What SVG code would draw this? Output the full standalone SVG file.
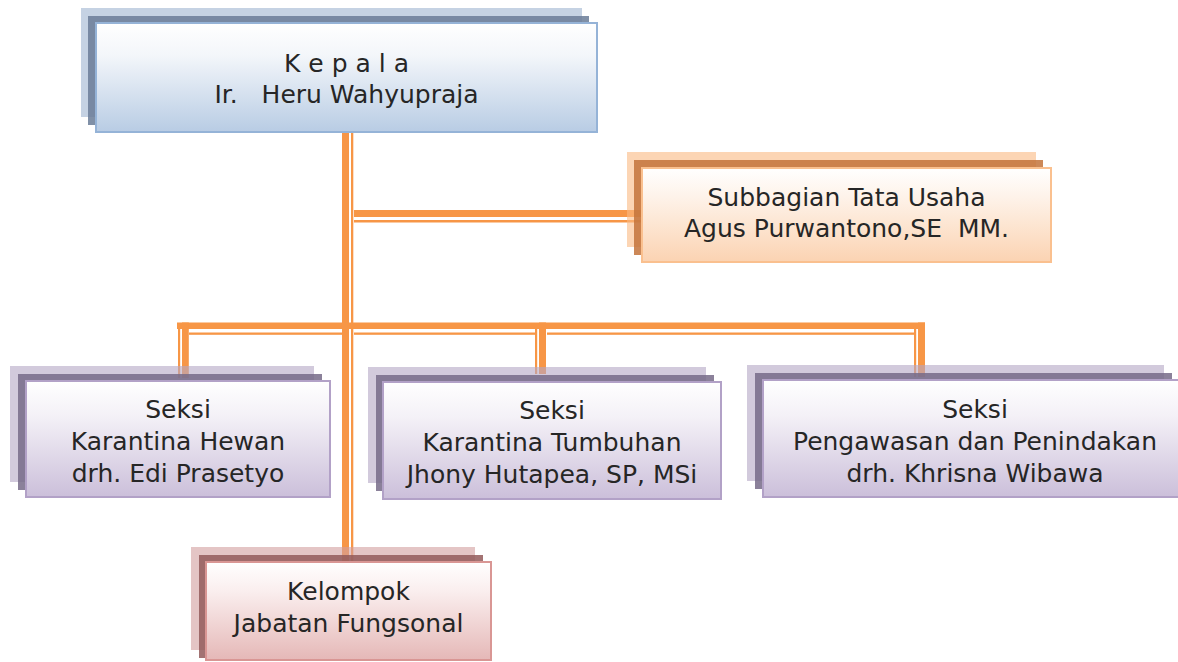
<svg xmlns="http://www.w3.org/2000/svg" width="1178" height="662" viewBox="0 0 1178 662">
  <defs>
    <linearGradient id="gBlue" x1="0" y1="0" x2="0" y2="1">
      <stop offset="0" stop-color="#ffffff"/>
      <stop offset="0.3" stop-color="#f3f6fa"/>
      <stop offset="1" stop-color="#b8cce4"/>
    </linearGradient>
    <linearGradient id="gOrange" x1="0" y1="0" x2="0" y2="1">
      <stop offset="0" stop-color="#ffffff"/>
      <stop offset="0.3" stop-color="#fef3ea"/>
      <stop offset="1" stop-color="#fbd3b2"/>
    </linearGradient>
    <linearGradient id="gPurple" x1="0" y1="0" x2="0" y2="1">
      <stop offset="0" stop-color="#ffffff"/>
      <stop offset="0.3" stop-color="#f4f1f7"/>
      <stop offset="1" stop-color="#cbbfda"/>
    </linearGradient>
    <linearGradient id="gRed" x1="0" y1="0" x2="0" y2="1">
      <stop offset="0" stop-color="#ffffff"/>
      <stop offset="0.3" stop-color="#faeeee"/>
      <stop offset="1" stop-color="#e5b8b7"/>
    </linearGradient>
  </defs>
  <style>
    .ln { fill: #f79646; }
    .t { font-family: "DejaVu Sans", "Liberation Sans", sans-serif; font-size: 25px; fill: #262626; text-anchor: middle; white-space: pre; }
    .lb1 { fill: #9eb4d0; fill-opacity: 0.6; }
    .lb2 { fill: #6a7c98; fill-opacity: 0.85; }
    .mb { fill: url(#gBlue); stroke: #95b3d7; stroke-width: 2; }
    .lo1 { fill: #fab982; fill-opacity: 0.6; }
    .lo2 { fill: #c3733b; fill-opacity: 0.85; }
    .mo { fill: url(#gOrange); stroke: #fac08f; stroke-width: 2; }
    .lp1 { fill: #b4a7c5; fill-opacity: 0.6; }
    .lp2 { fill: #776b88; fill-opacity: 0.85; }
    .mp { fill: url(#gPurple); stroke: #b2a1c7; stroke-width: 2; }
    .lr1 { fill: #d29e9e; fill-opacity: 0.6; }
    .lr2 { fill: #935b5b; fill-opacity: 0.85; }
    .mr { fill: url(#gRed); stroke: #d99694; stroke-width: 2; }
  </style>

  <g id="connectors">
    <!-- trunk -->
    <rect class="ln" x="342" y="132" width="7" height="430"/>
    <rect class="ln" x="351" y="132" width="2.3" height="430"/>
    <!-- branch to Subbagian -->
    <rect class="ln" x="354" y="210" width="288" height="7"/>
    <rect class="ln" x="354" y="220" width="288" height="2.5"/>
    <!-- bus -->
    <rect class="ln" x="177" y="322.5" width="748" height="6.5"/>
    <rect class="ln" x="189" y="332.5" width="153" height="2.3"/>
    <rect class="ln" x="354" y="332.5" width="181" height="2.3"/>
    <rect class="ln" x="547" y="332.5" width="367" height="2.3"/>
    <!-- drops -->
    <rect class="ln" x="178" y="328" width="2.2" height="50"/>
    <rect class="ln" x="182" y="322.5" width="6.8" height="55.5"/>
    <rect class="ln" x="535" y="329" width="2.2" height="45"/>
    <rect class="ln" x="539" y="322.5" width="7" height="51.5"/>
    <rect class="ln" x="914" y="329" width="2.2" height="48"/>
    <rect class="ln" x="918" y="322.5" width="7" height="54.5"/>
  </g>

  <g id="node-kepala">
    <rect class="lb1" x="81" y="8" width="501" height="109"/>
    <rect class="lb2" x="88" y="16" width="501" height="109"/>
    <rect class="mb" x="96" y="23" width="501" height="109"/>
    <text class="t" x="346.5" y="72" xml:space="preserve">K e p a l a</text>
    <text class="t" x="346.5" y="103" xml:space="preserve">Ir.   Heru Wahyupraja</text>
  </g>

  <g id="node-subbagian">
    <rect class="lo1" x="627" y="152" width="409" height="95"/>
    <rect class="lo2" x="634" y="160" width="409" height="95"/>
    <rect class="mo" x="642" y="168" width="409" height="94"/>
    <text class="t" x="846.5" y="206">Subbagian Tata Usaha</text>
    <text class="t" x="846.5" y="237" xml:space="preserve">Agus Purwantono,SE  MM.</text>
  </g>

  <g id="node-seksi-hewan">
    <rect class="lp1" x="10" y="366" width="304" height="116"/>
    <rect class="lp2" x="18" y="374" width="304" height="116"/>
    <rect class="mp" x="26" y="381" width="304" height="116"/>
    <text class="t" x="178" y="418">Seksi</text>
    <text class="t" x="178" y="450">Karantina Hewan</text>
    <text class="t" x="178" y="482">drh. Edi Prasetyo</text>
  </g>

  <g id="node-seksi-tumbuhan">
    <rect class="lp1" x="368" y="367" width="338" height="116"/>
    <rect class="lp2" x="376" y="375" width="338" height="116"/>
    <rect class="mp" x="383" y="382" width="338" height="117"/>
    <text class="t" x="552" y="419">Seksi</text>
    <text class="t" x="552" y="451">Karantina Tumbuhan</text>
    <text class="t" x="552" y="483">Jhony Hutapea, SP, MSi</text>
  </g>

  <g id="node-seksi-pengawasan">
    <rect class="lp1" x="747" y="365" width="417" height="116"/>
    <rect class="lp2" x="755" y="373" width="417" height="116"/>
    <rect class="mp" x="763" y="380" width="417" height="117"/>
    <text class="t" x="975" y="418">Seksi</text>
    <text class="t" x="975" y="450">Pengawasan dan Penindakan</text>
    <text class="t" x="975" y="482">drh. Khrisna Wibawa</text>
  </g>

  <g id="node-kelompok">
    <rect class="lr1" x="191" y="547" width="284" height="103"/>
    <rect class="lr2" x="199" y="555" width="284" height="103"/>
    <rect class="mr" x="206" y="562" width="285" height="98"/>
    <text class="t" x="348.5" y="600">Kelompok</text>
    <text class="t" x="348.5" y="632">Jabatan Fungsonal</text>
  </g>
</svg>
